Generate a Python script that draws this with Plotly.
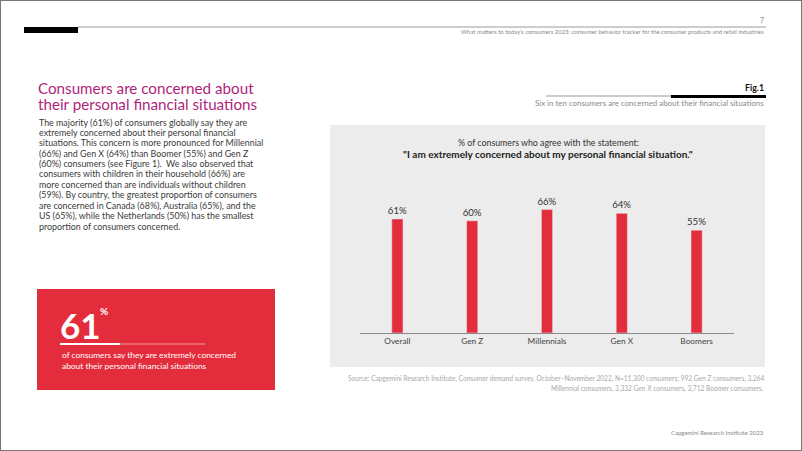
import plotly.graph_objects as go

W, H = 802, 451

categories = ["Overall", "Gen Z", "Millennials", "Gen X", "Boomers"]
shares = [61, 60, 66, 64, 55]

title_lines = ["Consumers are concerned about", "their personal financial situations"]
body_lines = [
    "The majority (61%) of consumers globally say they are",
    "extremely concerned about their personal financial",
    "situations. This concern is more pronounced for Millennial",
    "(66%) and Gen X (64%) than Boomer (55%) and Gen Z",
    "(60%) consumers (see Figure 1).  We also observed that",
    "consumers with children in their household (66%) are",
    "more concerned than are individuals without children",
    "(59%). By country, the greatest proportion of consumers",
    "are concerned in Canada (68%), Australia (65%), and the",
    "US (65%), while the Netherlands (50%) has the smallest",
    "proportion of consumers concerned.",
]
source_lines = [
    "Source: Capgemini Research Institute, Consumer demand survey, October\u2013November 2022, N=11,300 consumers; 992 Gen Z consumers, 3,264",
    "Millennial consumers, 3,332 Gen X consumers, 3,712 Boomer consumers.",
]

RED = "#e42d3c"
MAGENTA = "#b01f7a"
FONT = "Lato"


def px(x):
    return x / W


def py(y):
    return 1 - y / H


def text(x, y, s, size, color="#3a3a3a", anchor="left", yanchor="middle", **kw):
    return dict(x=px(x), y=py(y), xref="paper", yref="paper", text=s, showarrow=False,
                xanchor=anchor, yanchor=yanchor, font=dict(size=size, color=color, family=FONT), **kw)


def rect(x0, y0, x1, y1, fill, line=None):
    return dict(type="rect", xref="paper", yref="paper", x0=px(x0), x1=px(x1), y0=py(y1), y1=py(y0),
                fillcolor=fill, line=dict(width=0) if line is None else line, layer="below")


fig = go.Figure(go.Bar(
    x=categories, y=shares, width=0.15, marker_color=RED,
    text=[f"{v}%" for v in shares], textposition="outside", constraintext="none",
    textfont=dict(size=9.6, color="#333333", family=FONT), cliponaxis=False,
))

shapes = [
    rect(330, 125, 765, 367, "#ececec"),
    rect(37, 289, 275, 390, RED),
    rect(24, 27, 78, 33, "#000000"),
    rect(671, 95, 766, 98, "#000000"),
    rect(60, 343, 120, 345, "#ffffff"),
    dict(type="line", xref="paper", yref="paper", x0=px(78), x1=px(766), y0=py(27), y1=py(27),
         line=dict(color="#9a9a9a", width=1)),
    dict(type="line", xref="paper", yref="paper", x0=px(546), x1=px(671), y0=py(96), y1=py(96),
         line=dict(color="#9a9a9a", width=1)),
    dict(type="line", xref="paper", yref="paper", x0=px(120), x1=px(205), y0=py(344), y1=py(344),
         line=dict(color="#f3a0a6", width=1)),
    dict(type="rect", xref="paper", yref="paper", x0=0, x1=1, y0=0, y1=1,
         line=dict(color="#777777", width=2)),
]

ann = [
    text(766, 20, "7", 7, "#8a8a8a", anchor="right"),
    text(766, 32, "What matters to today\u2019s consumers 2023: consumer behavior tracker for the consumer products and retail industries",
         5.95, "#8a8a8a", anchor="right"),
    text(766, 87.5, "<b>Fig.1</b>", 8.8, "#111111", anchor="right"),
    text(766, 103, "Six in ten consumers are concerned about their financial situations", 7.9, "#8a8a8a", anchor="right"),
    text(548, 142, "% of consumers who agree with the statement:", 8.8, "#333333", anchor="center"),
    text(548, 154, "<b>\"I am extremely concerned about my personal financial situation.\"</b>", 10, "#222222", anchor="center"),
    text(766, 378, source_lines[0], 6.6, "#a8a8a8", anchor="right"),
    text(766, 388, source_lines[1], 6.6, "#a8a8a8", anchor="right"),
    text(766, 432, "Capgemini Research Institute 2023", 6.0, "#8a8a8a", anchor="right"),
    text(58, 325, "<b>61</b>", 35, "#ffffff"),
    text(98, 311, "<b>%</b>", 10, "#ffffff"),
    text(60, 355, "of consumers say they are extremely concerned", 8.4, "#ffffff"),
    text(60, 366, "about their personal financial situations", 8.4, "#ffffff"),
]
for i, s in enumerate(title_lines):
    ann.append(text(36, 88 + 15.5 * i, s, 15.2, MAGENTA))
for i, s in enumerate(body_lines):
    ann.append(text(37, 122 + 10.4 * i, s, 8.9, "#3a3a3a"))

fig.update_layout(
    width=W, height=H, margin=dict(l=0, r=0, t=0, b=0),
    paper_bgcolor="#ffffff", plot_bgcolor="rgba(0,0,0,0)",
    font=dict(family=FONT), showlegend=False,
    shapes=shapes, annotations=ann,
    xaxis=dict(domain=[px(360), px(734)], showline=True, linecolor="#8a8a8a", linewidth=1,
               ticks="", showgrid=False, tickfont=dict(size=8.3, color="#444444", family=FONT)),
    yaxis=dict(domain=[py(333), py(146)], range=[0, 100], visible=False),
)

fig.write_html("out.html", config={"displayModeBar": False},
               post_script="document.body.style.margin='0';")
